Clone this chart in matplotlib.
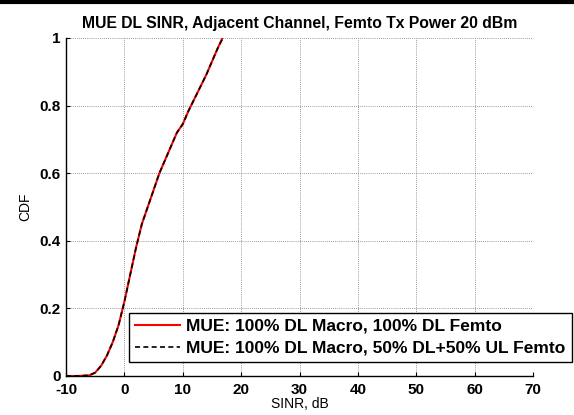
import matplotlib
matplotlib.use("Agg")
import matplotlib.pyplot as plt
from matplotlib.lines import Line2D

# ===== DATA =====
sinr_full = [-10, -8, -6, -5, -4, -3, -2, -1, 0, 1, 2, 3, 4, 5, 6, 7, 8, 9, 10, 11, 12, 13, 14, 15, 16, 16.8]
cdf_full = [0.0, 0.0, 0.002, 0.01, 0.03, 0.06, 0.10, 0.15, 0.22, 0.30, 0.38, 0.45, 0.50, 0.55, 0.60, 0.64, 0.68, 0.72, 0.745, 0.785, 0.82, 0.855, 0.89, 0.93, 0.97, 1.0]

sinr_half = [-10, -8, -6, -5, -4, -3, -2, -1, 0, 1, 2, 3, 4, 5, 6, 7, 8, 9, 10, 11, 12, 13, 14, 15, 16, 16.9]
cdf_half = [0.0, 0.0, 0.002, 0.01, 0.03, 0.06, 0.10, 0.15, 0.22, 0.30, 0.38, 0.45, 0.50, 0.55, 0.60, 0.64, 0.68, 0.72, 0.745, 0.785, 0.82, 0.855, 0.89, 0.93, 0.97, 1.0]

labels = ["MUE: 100% DL Macro, 100% DL Femto",
          "MUE: 100% DL Macro, 50% DL+50% UL Femto"]
xticks = [-10, 0, 10, 20, 30, 40, 50, 60, 70]
yticks = [0, 0.2, 0.4, 0.6, 0.8, 1]
ytick_labels = ["0", "0.2", "0.4", "0.6", "0.8", "1"]

plt.rcParams['font.family'] = ['Liberation Sans', 'DejaVu Sans']
plt.rcParams['axes.unicode_minus'] = False

fig = plt.figure(figsize=(5.74, 4.15), dpi=100)
ax = fig.add_axes([0.115, 0.094, 0.8136, 0.8146])

ax.plot(sinr_full, cdf_full, color="red", lw=1.5, label=labels[0])
ax.plot(sinr_half, cdf_half, color="black", lw=1.2, ls=(0, (3, 2)), label=labels[1])

ax.set_xlim(-10, 70)
ax.set_ylim(0, 1)
ax.set_xticks(xticks)
ax.set_yticks(yticks)
ax.set_yticklabels(ytick_labels)
ax.tick_params(direction="in", length=3, labelsize=11)
ax.tick_params(axis="x", pad=5)
ax.tick_params(axis="y", pad=4)
for lab in ax.get_xticklabels() + ax.get_yticklabels():
    lab.set_fontweight("bold")

ax.grid(True, color="#777777", ls=(0, (1, 1.5)), lw=0.6)
for side in ["top", "right"]:
    ax.spines[side].set_visible(False)
for side in ["left", "bottom"]:
    ax.spines[side].set_linewidth(1.0)

ax.set_title("MUE DL SINR, Adjacent Channel, Femto Tx Power 20 dBm",
             fontsize=11.3, fontweight="bold", pad=7)
ax.set_xlabel("SINR, dB", fontsize=10, labelpad=0)
ax.set_ylabel("CDF", fontsize=10, labelpad=5)

leg = ax.legend(loc="lower left", bbox_to_anchor=(0.135, 0.042),
                borderaxespad=0,
                prop={"weight": "bold", "size": 12.5}, fancybox=False,
                edgecolor="black", framealpha=1, borderpad=0.35,
                handlelength=2.6, handletextpad=0.35, labelspacing=0.38)
leg.get_frame().set_linewidth(1.0)

# top border bar
fig.add_artist(Line2D([0, 1], [0.996, 0.996], color="black", lw=3,
                      transform=fig.transFigure))

fig.savefig("out.png", dpi=100)
